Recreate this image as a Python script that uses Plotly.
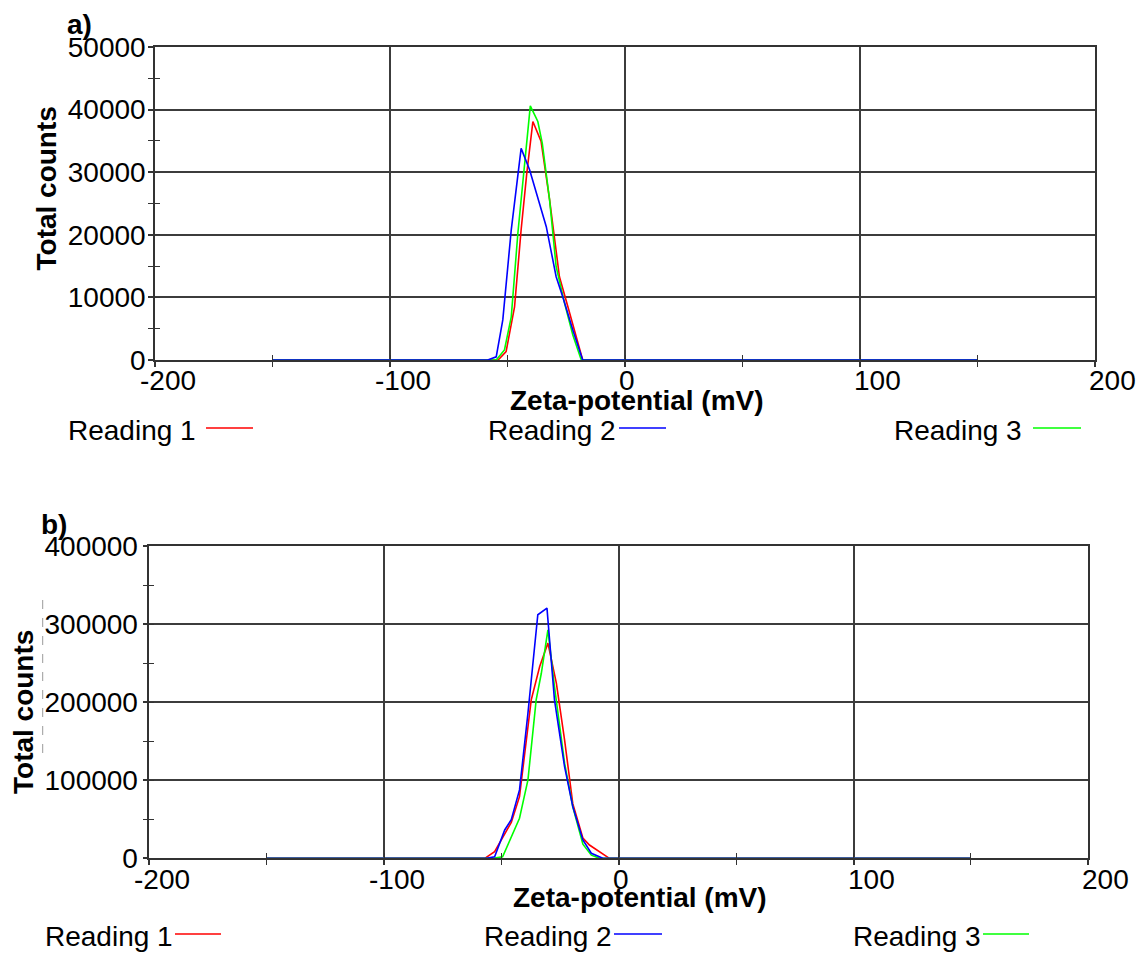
import plotly.graph_objects as go

# ---------------- data ----------------
# Panel a)
a_r1_x = [-150, -54.0, -50.6, -47.0, -44.2, -41.8, -39.2, -35.7, -32.1, -27.9, -24.3, -20.8, -18.0, 150]
a_r1_y = [0, 0, 1330, 8500, 20800, 29800, 38100, 34900, 25600, 13300, 8500, 4000, 0, 0]
a_r2_x = [-150, -58.4, -54.8, -52.0, -48.4, -44.2, -40.6, -37.1, -33.5, -29.3, -26.5, -22.2, -18.0, 150]
a_r2_y = [0, 0, 500, 6400, 20800, 33800, 30400, 26100, 21300, 13300, 10100, 4800, 0, 0]
a_r3_x = [-150, -54.8, -51.3, -48.4, -45.6, -42.8, -40.3, -37.1, -35.2, -32.1, -29.3, -25.7, -22.2, -18.6, 150]
a_r3_y = [0, 0, 1600, 6900, 20200, 30900, 40600, 38100, 34600, 25600, 14900, 9050, 4000, 0, 0]

# Panel b)
b_r1_x = [-150, -57.1, -52.9, -45.8, -42.3, -37.3, -33.7, -30.2, -26.6, -23.1, -19.6, -15.3, -12.5, -8.2, -4.0, 150]
b_r1_y = [0, 0, 8500, 46000, 79000, 203000, 245600, 275600, 224400, 151700, 70000, 26000, 17000, 8500, 0, 0]
b_r2_x = [-150, -56.4, -52.9, -48.6, -45.8, -42.3, -38.7, -34.5, -30.6, -27.4, -23.1, -19.6, -15.3, -11.7, -6.8, 150]
b_r2_y = [0, 0, 2000, 36300, 49400, 87600, 185900, 311900, 320500, 203000, 117400, 66200, 23500, 6400, 0, 0]
b_r3_x = [-150, -53.6, -49.5, -46.5, -42.3, -38.7, -35.2, -33.0, -30.2, -27.4, -23.1, -19.6, -15.3, -11.7, -8.2, 150]
b_r3_y = [0, 0, 2000, 23500, 51300, 100400, 203000, 237000, 292700, 220000, 121800, 66000, 18000, 4000, 0, 0]

series_names = ["Reading 1", "Reading 2", "Reading 3"]
series_colors = ["#ff0000", "#0000ff", "#00ff00"]
x_tick_vals = [-200, -100, 0, 100, 200]
x_tick_text = ["-200", "-100", "0", "100", "200"]
x_title = "Zeta-potential (mV)"
y_title = "Total counts"
panel_labels = ["a)", "b)"]

# ---------------- styling / layout ----------------
W, H = 1141, 957
FONT = "Liberation Sans, Arial, sans-serif"
FS = 28
AX = "#333333"
GRID = "#3c3c3c"


def fx(p):
    return p / W


def fy(p):
    return 1 - p / H


fig = go.Figure()

panels = [
    dict(xa="x", ya="y", data=[(a_r1_x, a_r1_y), (a_r2_x, a_r2_y), (a_r3_x, a_r3_y)],
         xd=[155, 1095], yd=[47, 360], ymax=50000, ydt=10000, standoff=-3),
    dict(xa="x2", ya="y2", data=[(b_r1_x, b_r1_y), (b_r2_x, b_r2_y), (b_r3_x, b_r3_y)],
         xd=[149.3, 1088.3], yd=[546, 858.3], ymax=400000, ydt=100000, standoff=-1),
]

draw_order = [0, 2, 1]  # red, green, blue on top
for p in panels:
    for i in draw_order:
        xs, ys = p["data"][i]
        fig.add_trace(go.Scatter(x=xs, y=ys, mode="lines", name=series_names[i],
                                 line=dict(color=series_colors[i], width=1.6),
                                 xaxis=p["xa"], yaxis=p["ya"], cliponaxis=False,
                                 showlegend=False, hoverinfo="skip"))

# empty traces on overlay axes (inside tick halves)
fig.add_trace(go.Scatter(x=[], y=[], xaxis="x3", yaxis="y3", showlegend=False))
fig.add_trace(go.Scatter(x=[], y=[], xaxis="x4", yaxis="y4", showlegend=False))

common_x = dict(range=[-200, 200], tickmode="linear", tick0=0, dtick=100, automargin=False,
                showticklabels=False, ticks="outside", ticklen=5, tickwidth=1.5, tickcolor=AX,
                showgrid=True, gridcolor=GRID, gridwidth=1.5,
                showline=True, linecolor=AX, linewidth=1.5, mirror=True, zeroline=False,
                minor=dict(tickmode="linear", tick0=0, dtick=50, ticks="outside", ticklen=5,
                           tickwidth=1.2, tickcolor=AX, showgrid=False),
                fixedrange=True)


def common_y(ymax, dt, standoff):
    return dict(range=[0, ymax], tickmode="linear", tick0=0, dtick=dt, tickformat="d",
                automargin=False,
                ticks="outside", ticklen=5, tickwidth=1.5, tickcolor=AX,
                tickfont=dict(family=FONT, size=FS, color="black"), ticklabelstandoff=standoff,
                showgrid=True, gridcolor=GRID, gridwidth=1.5,
                showline=True, linecolor=AX, linewidth=1.5, mirror=True, zeroline=False,
                minor=dict(tickmode="linear", tick0=0, dtick=dt / 2, ticks="outside", ticklen=5,
                           tickwidth=1.2, tickcolor=AX, showgrid=False),
                fixedrange=True)


def overlay_x(base, anchor):
    return dict(overlaying=base, anchor=anchor, range=[-200, 200], tickmode="linear", tick0=0,
                dtick=50, ticks="inside", ticklen=5, tickwidth=1.2, tickcolor=AX, automargin=False,
                showticklabels=False, showgrid=False, showline=False, zeroline=False,
                fixedrange=True)


def overlay_y(base, anchor, ymax, dt):
    return dict(overlaying=base, anchor=anchor, side="left", range=[0, ymax], tickmode="linear",
                tick0=0, dtick=dt / 2, ticks="inside", ticklen=5, tickwidth=1.2, tickcolor=AX,
                showticklabels=False, showgrid=False, showline=False, zeroline=False,
                automargin=False, fixedrange=True)


pa, pb = panels
layout = dict(
    width=W, height=H, autosize=False,
    margin=dict(l=0, r=0, t=0, b=0, pad=0, autoexpand=False),
    paper_bgcolor="white", plot_bgcolor="white",
    font=dict(family=FONT, size=FS, color="black"),
    xaxis=dict(common_x, domain=[fx(pa["xd"][0]), fx(pa["xd"][1])], anchor="y"),
    yaxis=dict(common_y(pa["ymax"], pa["ydt"], pa["standoff"]),
               domain=[fy(pa["yd"][1]), fy(pa["yd"][0])], anchor="x"),
    xaxis2=dict(common_x, domain=[fx(pb["xd"][0]), fx(pb["xd"][1])], anchor="y2"),
    yaxis2=dict(common_y(pb["ymax"], pb["ydt"], pb["standoff"]),
                domain=[fy(pb["yd"][1]), fy(pb["yd"][0])], anchor="x2"),
    xaxis3=overlay_x("x", "y"),
    yaxis3=overlay_y("y", "x", pa["ymax"], pa["ydt"]),
    xaxis4=overlay_x("x2", "y2"),
    yaxis4=overlay_y("y2", "x2", pb["ymax"], pb["ydt"]),
    showlegend=False,
)
fig.update_layout(**layout)

ann = []
shapes = []

# x tick labels (left-anchored just before each gridline, like the original)
minus_w = 0.333 * FS
for p, yref in ((pa, "y"), (pb, "y2")):
    xref = p["xa"]
    for v, t in zip(x_tick_vals, x_tick_text):
        shift = -7 - (minus_w if t.startswith("-") else 0)
        ann.append(dict(x=v, y=0, xref=xref, yref=yref, text=t, showarrow=False,
                        xanchor="left", yanchor="middle", xshift=shift, yshift=-21,
                        borderpad=0, font=dict(family=FONT, size=FS, color="black")))

# axis titles
for cx, cy in ((636.5, 400), (640, 897.5)):
    ann.append(dict(x=fx(cx), y=fy(cy), xref="paper", yref="paper", text="<b>%s</b>" % x_title,
                    showarrow=False, xanchor="center", yanchor="middle", borderpad=0,
                    font=dict(family=FONT, size=FS, color="black")))
for cx, cy in ((46, 188.5), (23, 712)):
    ann.append(dict(x=fx(cx), y=fy(cy), xref="paper", yref="paper", text="<b>%s</b>" % y_title,
                    showarrow=False, xanchor="center", yanchor="middle", textangle=-90, borderpad=0,
                    font=dict(family=FONT, size=FS, color="black")))

# panel labels
for (lx, ly), lab in zip(((66, 24), (40, 524)), panel_labels):
    ann.append(dict(x=fx(lx), y=fy(ly), xref="paper", yref="paper", text="<b>%s</b>" % lab,
                    showarrow=False, xanchor="left", yanchor="middle", borderpad=0,
                    font=dict(family=FONT, size=FS, color="black")))

# legends (text followed by a short coloured line)
legend_rows = [
    (430, 428, [(197, 206, 253), (617, 619, 666), (1023, 1033, 1081)]),
    (936, 934, [(174, 175, 221), (613, 614, 662), (982, 983, 1029)]),
]
for ty, ly, items in legend_rows:
    for i, (tr, l0, l1) in enumerate(items):
        ann.append(dict(x=fx(tr), y=fy(ty), xref="paper", yref="paper", text=series_names[i],
                        showarrow=False, xanchor="right", yanchor="middle", borderpad=0,
                        font=dict(family=FONT, size=FS, color="black")))
        shapes.append(dict(type="line", xref="paper", yref="paper", x0=fx(l0), x1=fx(l1),
                           y0=fy(ly), y1=fy(ly), line=dict(color=series_colors[i], width=1.6)))

# faint dashed artefact beside the lower y title
shapes.append(dict(type="line", xref="paper", yref="paper", x0=fx(42.7), x1=fx(42.7),
                   y0=fy(600), y1=fy(758), line=dict(color="#9a9a9a", width=1, dash="dash")))

fig.update_layout(annotations=ann, shapes=shapes)

fig.write_html("out.html", config={"displayModeBar": False},
               post_script="document.body.style.margin='0';document.body.style.overflow='hidden';")
